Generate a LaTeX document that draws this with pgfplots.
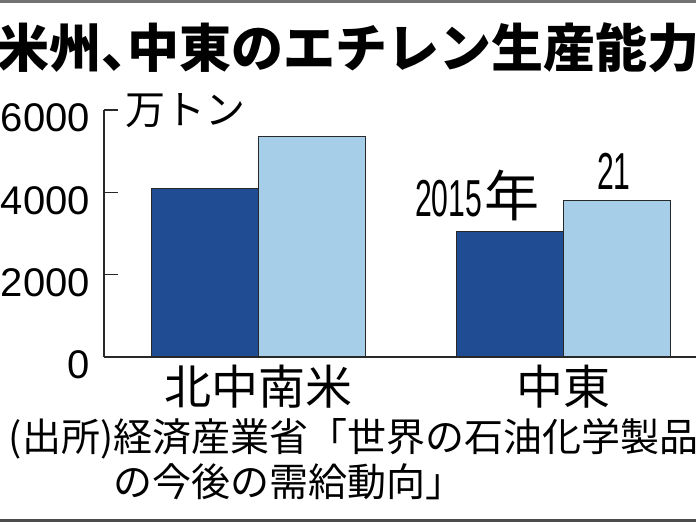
\documentclass[border=0pt]{standalone}
\usepackage{fontspec}
\usepackage{pgfplots}
\pgfplotsset{compat=1.18}
\setmainfont{Liberation Sans}
\newfontfamily\cjk{Noto Sans CJK JP}
\newfontfamily\narrow{Liberation Sans}[FakeStretch=0.58]
\definecolor{darkbar}{RGB}{32,76,148}
\definecolor{lightbar}{RGB}{166,206,232}
\definecolor{axisgray}{RGB}{40,40,40}
\begin{document}
\begin{tikzpicture}[x=1pt,y=1pt]
\path[use as bounding box] (0,0) rectangle (696,522);
\fill[white] (0,0) rectangle (696,522);
\clip (0,0) rectangle (696,522);
\fill[black!55] (0,519) rectangle (696,522);
\fill[black!70] (0,0) rectangle (696,3);
\begin{axis}[
  at={(104pt,165pt)}, anchor=south west,
  scale only axis, width=592pt, height=247pt,
  xmin=-0.505, xmax=1.436, ymin=0, ymax=6000,
  axis x line=bottom, axis y line=left,
  axis line style={line width=1.3pt, draw=axisgray, -},
  ybar=0pt, bar width=107pt,
  xtick={0,1}, xticklabels={北中南米,中東},
  xtick style={draw=none},
  ytick={0,2000,4000,6000},
  ytick style={line width=1.3pt, draw=axisgray},
  major tick length=14pt, tick align=inside,
  /pgf/number format/assume math mode=true,
  /pgf/number format/1000 sep={},
  yticklabel style={font=\fontsize{40}{40}\selectfont, anchor=east, inner sep=0pt, xshift=-14pt, yshift=-8pt},
  xticklabel style={font=\cjk\fontsize{47}{47}\selectfont, anchor=base, inner sep=0pt, yshift=-48pt},
  clip=false,
]
\addplot[fill=darkbar, draw=axisgray, line width=1pt] coordinates {(0,4100) (1,3050)};
\addplot[fill=lightbar, draw=axisgray, line width=1pt] coordinates {(0,5350) (1,3800)};
\end{axis}
% unit
\node[anchor=base west, inner sep=0pt] at (125,397) {\cjk\fontsize{40}{40}\selectfont 万トン};
% legend-like labels
\node[anchor=base west, inner sep=0pt] at (415,305) {\narrow\fontsize{52}{52}\selectfont 2015\kern2pt\cjk\fontsize{55}{55}\selectfont 年};
\node[anchor=base west, inner sep=0pt] at (597,332) {\narrow\fontsize{52}{52}\selectfont 21};
% title
\node[anchor=base west, inner sep=0pt] at (-3,454) {\cjk\bfseries\fontsize{52}{52}\selectfont 米州、\kern-26pt 中東のエチレン生産能力};
% source
\node[anchor=base west, inner sep=0pt] at (113,70) {\cjk\fontsize{39}{39}\selectfont\llap{(出所)}経済産業省「世界の石油化学製品};
\node[anchor=base west, inner sep=0pt] at (113,25) {\cjk\fontsize{39}{39}\selectfont の今後の需給動向」};
\end{tikzpicture}
\end{document}
